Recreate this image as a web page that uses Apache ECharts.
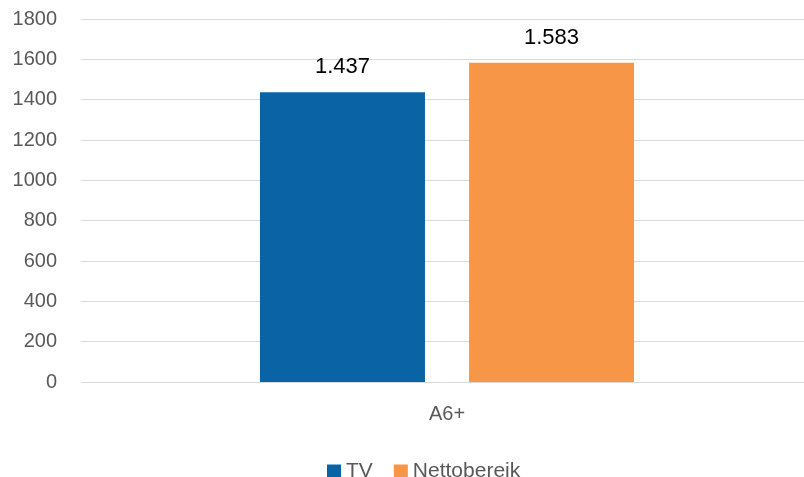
<!DOCTYPE html>
<html>
<head>
<meta charset="utf-8">
<script src="https://cdn.jsdelivr.net/npm/echarts@6/dist/echarts.min.js"></script>
<style>html,body{margin:0;padding:0;background:#fff}#c{width:804px;height:477px}</style>
</head>
<body>
<div id="c"></div>
<script>
const categories = ['A6+'];
const seriesNames = ['TV', 'Nettobereik'];
const tvValues = [1437];
const nettoValues = [1583];
const yTicks = { min: 0, max: 1800, interval: 200 };

const fmt = v => {
  const s = String(v);
  return s.length > 3 ? s.slice(0, s.length - 3) + '.' + s.slice(-3) : s;
};
const font = '"Liberation Sans", Arial, sans-serif';
const chart = echarts.init(document.getElementById('c'), null, { renderer: 'canvas' });
const labelCfg = {
  show: true, position: 'top', distance: 14, color: '#000', fontSize: 22, fontFamily: font,
  formatter: p => fmt(p.value)
};
chart.setOption({
  animation: false,
  textStyle: { fontFamily: font },
  grid: [
    { left: 81, top: 19, right: 0, bottom: 95, containLabel: false },
    { left: 90, top: 19, right: 0, bottom: 95, containLabel: false }
  ],
  legend: {
    data: seriesNames, left: 322, top: 456, itemWidth: 14, itemHeight: 14, itemGap: 21,
    icon: 'rect', textStyle: { color: '#595959', fontSize: 21, fontFamily: font }
  },
  xAxis: [
    { gridIndex: 0, type: 'category', data: categories, show: false },
    { gridIndex: 1, type: 'category', data: categories,
      axisLine: { show: false },
      axisTick: { show: false },
      axisLabel: { color: '#595959', fontSize: 20, margin: 22, fontFamily: font } }
  ],
  yAxis: [
    { gridIndex: 0, type: 'value', min: yTicks.min, max: yTicks.max, interval: yTicks.interval,
      axisLine: { show: false }, axisTick: { show: false },
      splitLine: { lineStyle: { color: '#d9d9d9', width: 1 } },
      axisLabel: { color: '#595959', fontSize: 20, margin: 24, fontFamily: font, formatter: v => String(v) } },
    { gridIndex: 1, type: 'value', min: yTicks.min, max: yTicks.max, interval: yTicks.interval,
      show: false, splitLine: { show: false } }
  ],
  series: [
    { name: seriesNames[0], type: 'bar', xAxisIndex: 1, yAxisIndex: 1, data: tvValues, barWidth: 165, barGap: '26.7%',
      itemStyle: { color: '#0A63A5' }, label: labelCfg },
    { name: seriesNames[1], type: 'bar', xAxisIndex: 1, yAxisIndex: 1, data: nettoValues, barWidth: 165, barGap: '26.7%',
      itemStyle: { color: '#F79646' }, label: labelCfg }
  ]
});
</script>
</body>
</html>
